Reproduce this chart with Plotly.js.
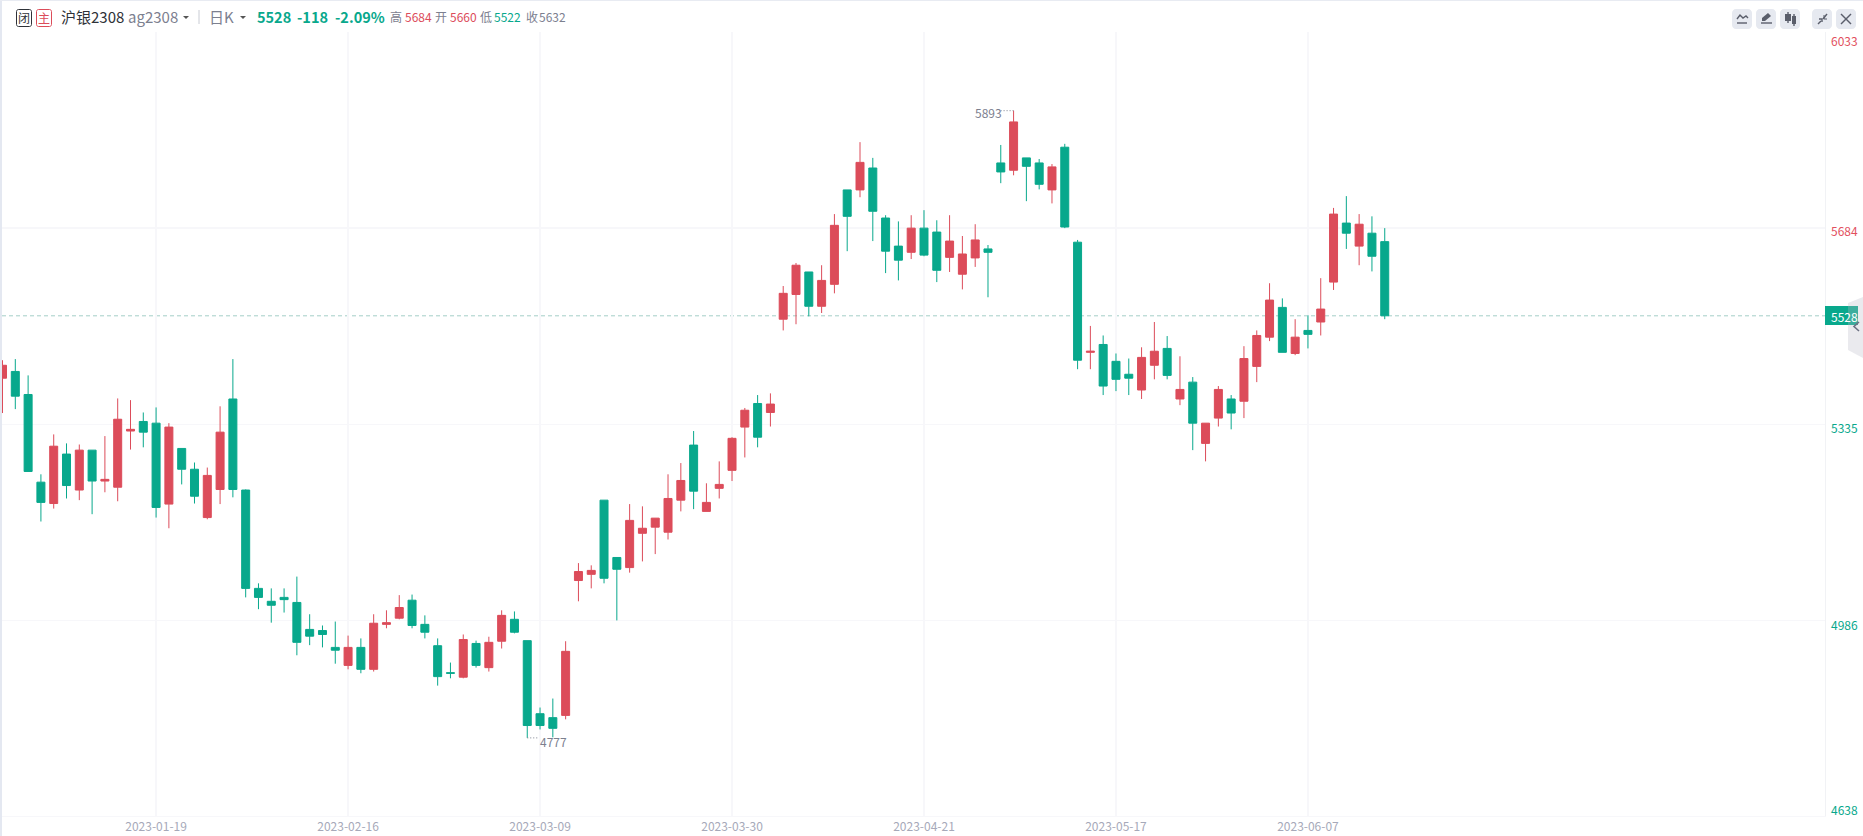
<!DOCTYPE html>
<html><head><meta charset="utf-8">
<script src="https://cdn.plot.ly/plotly-3.0.1.min.js"></script>
<style>html,body{margin:0;padding:0;background:#fff;overflow:hidden}#c{width:1863px;height:836px}</style>
</head><body><div id="c"></div>
<script>
const dates = ["2023-01-03","2023-01-04","2023-01-05","2023-01-06","2023-01-09","2023-01-10","2023-01-11","2023-01-12","2023-01-13","2023-01-16","2023-01-17","2023-01-18","2023-01-19","2023-01-20","2023-01-30","2023-01-31","2023-02-01","2023-02-02","2023-02-03","2023-02-06","2023-02-07","2023-02-08","2023-02-09","2023-02-10","2023-02-13","2023-02-14","2023-02-15","2023-02-16","2023-02-17","2023-02-20","2023-02-21","2023-02-22","2023-02-23","2023-02-24","2023-02-27","2023-02-28","2023-03-01","2023-03-02","2023-03-03","2023-03-06","2023-03-07","2023-03-08","2023-03-09","2023-03-10","2023-03-13","2023-03-14","2023-03-15","2023-03-16","2023-03-17","2023-03-20","2023-03-21","2023-03-22","2023-03-23","2023-03-24","2023-03-27","2023-03-28","2023-03-29","2023-03-30","2023-03-31","2023-04-03","2023-04-04","2023-04-06","2023-04-07","2023-04-10","2023-04-11","2023-04-12","2023-04-13","2023-04-14","2023-04-17","2023-04-18","2023-04-19","2023-04-20","2023-04-21","2023-04-24","2023-04-25","2023-04-26","2023-04-27","2023-04-28","2023-05-04","2023-05-05","2023-05-08","2023-05-09","2023-05-10","2023-05-11","2023-05-12","2023-05-15","2023-05-16","2023-05-17","2023-05-18","2023-05-19","2023-05-22","2023-05-23","2023-05-24","2023-05-25","2023-05-26","2023-05-29","2023-05-30","2023-05-31","2023-06-01","2023-06-02","2023-06-05","2023-06-06","2023-06-07","2023-06-08","2023-06-09","2023-06-12","2023-06-13","2023-06-14","2023-06-15"];
const opens = [5417,5429,5388,5232,5194,5282,5218,5289,5234,5223,5323,5340,5337,5193,5292,5255,5169,5219,5380,5218,5043,5020,5027,5018,4970,4968,4938,4906,4938,4899,4979,4990,5022,4979,4941,4893,4885,4945,4902,4949,4988,4950,4820,4813,4817,5057,5068,5200,5098,5080,5141,5152,5143,5200,5298,5180,5221,5253,5330,5372,5356,5522,5566,5606,5545,5584,5752,5752,5791,5702,5652,5641,5684,5677,5632,5602,5631,5647,5800,5787,5809,5800,5752,5828,5659,5463,5477,5447,5424,5396,5440,5470,5380,5410,5301,5346,5380,5376,5438,5490,5543,5461,5502,5517,5588,5693,5652,5675,5660];
const highs = [5449,5451,5422,5246,5317,5301,5299,5289,5314,5381,5378,5356,5365,5337,5292,5267,5258,5367,5451,5219,5052,5043,5043,5064,4997,4977,4984,4959,4954,4997,5004,5031,5032,4995,4954,4911,4961,4950,4957,5004,5002,4950,4831,4847,4949,5088,5084,5200,5098,5193,5189,5168,5246,5266,5323,5230,5269,5312,5364,5387,5390,5581,5622,5606,5618,5709,5752,5837,5809,5707,5696,5707,5716,5698,5707,5670,5691,5654,5832,5893,5809,5807,5798,5834,5663,5510,5493,5461,5452,5472,5517,5492,5456,5419,5337,5403,5387,5474,5502,5586,5559,5522,5529,5595,5720,5741,5709,5705,5684];
const lows = [5355,5362,5251,5162,5185,5203,5200,5175,5214,5198,5290,5294,5169,5150,5228,5194,5166,5193,5205,5027,5006,4982,5000,4924,4942,4938,4909,4899,4892,4895,4972,4988,4972,4954,4870,4883,4883,4902,4895,4936,4963,4777,4792,4778,4810,5020,5043,5052,4986,5071,5091,5104,5130,5180,5184,5180,5203,5234,5276,5294,5331,5502,5513,5527,5533,5568,5643,5739,5661,5604,5591,5629,5634,5588,5606,5575,5615,5561,5764,5778,5732,5753,5728,5684,5433,5433,5387,5394,5387,5380,5415,5415,5369,5289,5269,5331,5326,5346,5410,5483,5463,5458,5470,5493,5574,5647,5618,5607,5522];
const closes = [5440,5385,5251,5196,5296,5226,5289,5234,5237,5344,5326,5321,5187,5330,5255,5207,5244,5321,5219,5043,5027,5013,5023,4947,4958,4961,4933,4938,4899,4981,4982,5009,4977,4965,4886,4892,4952,4906,4947,4995,4965,4799,4799,4794,4931,5073,5075,5061,5077,5164,5150,5168,5203,5235,5216,5196,5228,5310,5360,5312,5371,5568,5618,5545,5591,5689,5705,5801,5714,5643,5627,5684,5636,5609,5661,5638,5663,5641,5784,5873,5794,5762,5793,5686,5449,5465,5403,5415,5417,5454,5465,5422,5397,5337,5337,5397,5355,5452,5493,5556,5463,5490,5495,5540,5709,5675,5691,5634,5528];
const dateTicks = ["2023-01-19","2023-02-16","2023-03-09","2023-03-30","2023-04-21","2023-05-17","2023-06-07"];
const priceTicks = [6033,5684,5335,4986,4638];
const priceTickColors = ["#e2505e","#e2505e","#08a88c","#08a88c","#08a88c"];
const priceTickPy = [40.5,230.5,427.5,624,809];
const lastPrice = 5528, highPrice = 5893, lowPrice = 4777;

const W=1863,H=836, RED="#dc4c5a", GREEN="#08a88c", GREY="#7c808f", DARK="#2f3238", GRID="#f7f7fa";
const px=x=>x/W, py=y=>1-y/H;
const annotations=[], shapes=[];
function T(text,x,y,size,color,anchor,weight){annotations.push({text:String(text),xref:"paper",yref:"paper",x:px(x),y:py(y),xanchor:anchor||"left",yanchor:"middle",showarrow:false,borderpad:0,
  font:{family:'"Noto Sans CJK SC","Noto Sans",sans-serif',size:size,color:color,weight:weight||400}});}
function P(d,o){shapes.push(Object.assign({type:"path",xref:"paper",yref:"paper",path:d,layer:"above"},o));}
const pt=(x,y)=>px(x)+","+py(y);
function poly(list,close){return "M"+list.map(p=>pt(p[0],p[1])).join(" L")+(close?" Z":"");}
function rrect(x0,y0,x1,y1,r){const k=r*0.45;return `M${pt(x0+r,y0)} L${pt(x1-r,y0)} C${pt(x1-k,y0)} ${pt(x1,y0+k)} ${pt(x1,y0+r)} L${pt(x1,y1-r)} C${pt(x1,y1-k)} ${pt(x1-k,y1)} ${pt(x1-r,y1)} L${pt(x0+r,y1)} C${pt(x0+k,y1)} ${pt(x0,y1-k)} ${pt(x0,y1-r)} L${pt(x0,y0+r)} C${pt(x0,y0+k)} ${pt(x0+k,y0)} ${pt(x0+r,y0)} Z`;}

// frame bands
P(poly([[0,0],[2,0],[2,836],[0,836]],1),{fillcolor:"#e4e8f1",line:{width:0}});
P(poly([[0,0],[1863,0],[1863,1],[0,1]],1),{fillcolor:"#e8ebf2",line:{width:0}});

// header
P(rrect(16.5,9.5,31.5,26.5,2),{fillcolor:"#fff",line:{color:DARK,width:1}});
P(rrect(36.5,9.5,51.5,26.5,2),{fillcolor:"#fff",line:{color:RED,width:1}});
T("闭",24,17.5,12,DARK,"center");
T("主",44,17.5,12,RED,"center");
T("沪银2308",60,16.5,15,DARK);
T("ag2308",127,16.5,15,GREY);
P(poly([[183,16],[189,16],[186,19]],1),{fillcolor:"#555",line:{width:0}});
P(poly([[199,10],[199,24]]),{line:{color:"#c9ccd4",width:1}});
T("日K",208,16.5,15,GREY);
P(poly([[240,16],[246,16],[243,19]],1),{fillcolor:"#555",line:{width:0}});
T("5528",256,16.5,14.5,GREEN,"left",700);
T("-118",296,16.5,14.5,GREEN,"left",700);
T("-2.09%",334,16.5,14.5,GREEN,"left",700);
T("高",389,16.5,12,GREY); T("5684",403.5,16.5,12,RED);
T("开",434,16.5,12,GREY); T("5660",449,16.5,12,RED);
T("低",479,16.5,12,GREY); T("5522",493,16.5,12,GREEN);
T("收",525,16.5,12,GREY); T("5632",538,16.5,12,GREY);

// toolbar buttons
[1732,1756,1780,1812,1836].forEach(x=>P(rrect(x,9,x+20,29,4),{fillcolor:"#e6e9f0",line:{width:0}}));
const ic={line:{color:"#5a5e6b",width:1.4},fillcolor:"rgba(0,0,0,0)"};
P(poly([[1737,19],[1740,15],[1743,18],[1746,16],[1748,18]]),ic);
P(poly([[1737,23],[1747,23]]),ic);
P(poly([[1762,21],[1762,18],[1768,13],[1771,16],[1765,21]],1),{fillcolor:"#5a5e6b",line:{width:0}});
P(poly([[1761,23],[1772,23]]),ic);
P(poly([[1785,14],[1791,14],[1791,21],[1785,21]],1),{fillcolor:"#5a5e6b",line:{width:0}});
P(poly([[1788,12],[1788,23]]),ic);
P(poly([[1792,16],[1796,16],[1796,24],[1792,24]],1),{fillcolor:"#5a5e6b",line:{width:0}});
P(poly([[1794,14],[1794,26]]),ic);
P(poly([[1818,24],[1821,21]]),ic); P(poly([[1823,19],[1827,14]]),ic);
P(poly([[1819,19],[1822,19],[1822,22]]),ic); P(poly([[1824,15],[1824,19],[1827,19]]),{line:{color:"#5a5e6b",width:1}});
P(poly([[1841,14],[1851,24]]),ic); P(poly([[1851,14],[1841,24]]),ic);

// right axis labels
priceTicks.forEach((v,i)=>T(v,1830,priceTickPy[i],12,priceTickColors[i]));

// last price line and tag
const xr=[-0.04,142.4];
shapes.push({type:"line",xref:"paper",yref:"y",x0:px(2),x1:px(1825),y0:lastPrice,y1:lastPrice,layer:"below",line:{color:"rgba(40,140,125,0.42)",width:1,dash:"4px,3px"}});
P(poly([[1825,306],[1858,306],[1858,325],[1825,325]],1),{fillcolor:GREEN,line:{width:0}});
P(poly([[1863,297],[1848,303],[1848,350],[1863,358]],1),{fillcolor:"rgba(185,185,198,0.3)",line:{width:0}});
P(poly([[1859,322],[1854,326.5],[1859,331]]),{line:{color:"#6d7183",width:1.6}});
T(lastPrice,1844,316,12,"#ffffff","center");

// extreme markers
const hiIdx=highs.indexOf(highPrice), loIdx=lows.indexOf(lowPrice);
shapes.push({type:"line",xref:"x",yref:"y",x0:hiIdx,x1:hiIdx-1,y0:highPrice,y1:highPrice,line:{color:"#7c808f",width:1,dash:"1px,2px"},layer:"above"});
shapes.push({type:"line",xref:"x",yref:"y",x0:loIdx,x1:loIdx+0.8,y0:lowPrice,y1:lowPrice,line:{color:"#7c808f",width:1,dash:"1px,2px"},layer:"above"});
const fnt={family:'"Noto Sans CJK SC","Noto Sans",sans-serif',size:12,color:GREY};
annotations.push({text:String(highPrice),xref:"x",yref:"y",x:hiIdx-1,y:highPrice,xanchor:"right",yanchor:"middle",yshift:-2,xshift:2,showarrow:false,borderpad:0,font:fnt});
annotations.push({text:String(lowPrice),xref:"x",yref:"y",x:loIdx+1,y:lowPrice,xanchor:"left",yanchor:"middle",yshift:-4,xshift:-1,showarrow:false,borderpad:0,font:fnt});

Plotly.newPlot("c",[{
  type:"candlestick",x:dates,open:opens,high:highs,low:lows,close:closes,
  increasing:{line:{color:RED,width:1},fillcolor:RED},
  decreasing:{line:{color:GREEN,width:1},fillcolor:GREEN},
  whiskerwidth:0,hoverinfo:"skip"
}],{
  width:W,height:H,margin:{l:0,r:0,t:0,b:0,pad:0},
  paper_bgcolor:"#fff",plot_bgcolor:"#fff",showlegend:false,dragmode:false,boxgap:0.375,boxgroupgap:0,
  xaxis:{type:"category",domain:[px(2),px(1825)],range:xr,rangeslider:{visible:false},
    tickmode:"array",tickvals:dateTicks,ticktext:dateTicks,ticks:"",showgrid:true,gridcolor:GRID,gridwidth:1.5,
    showline:true,linecolor:GRID,linewidth:1,zeroline:false,
    tickfont:{family:'"Noto Sans CJK SC","Noto Sans",sans-serif',size:12,color:"#a6a9b9"},tickangle:0,automargin:false},
  yaxis:{type:"linear",domain:[py(816),py(32)],range:[priceTicks[4],priceTicks[0]],side:"right",
    tickmode:"array",tickvals:priceTicks,showticklabels:false,ticks:"",showgrid:true,gridcolor:GRID,gridwidth:1.5,
    showline:true,linecolor:"#f1f2f5",linewidth:1,zeroline:false,automargin:false},
  shapes:shapes,annotations:annotations
},{displayModeBar:false,staticPlot:true});
</script></body></html>
